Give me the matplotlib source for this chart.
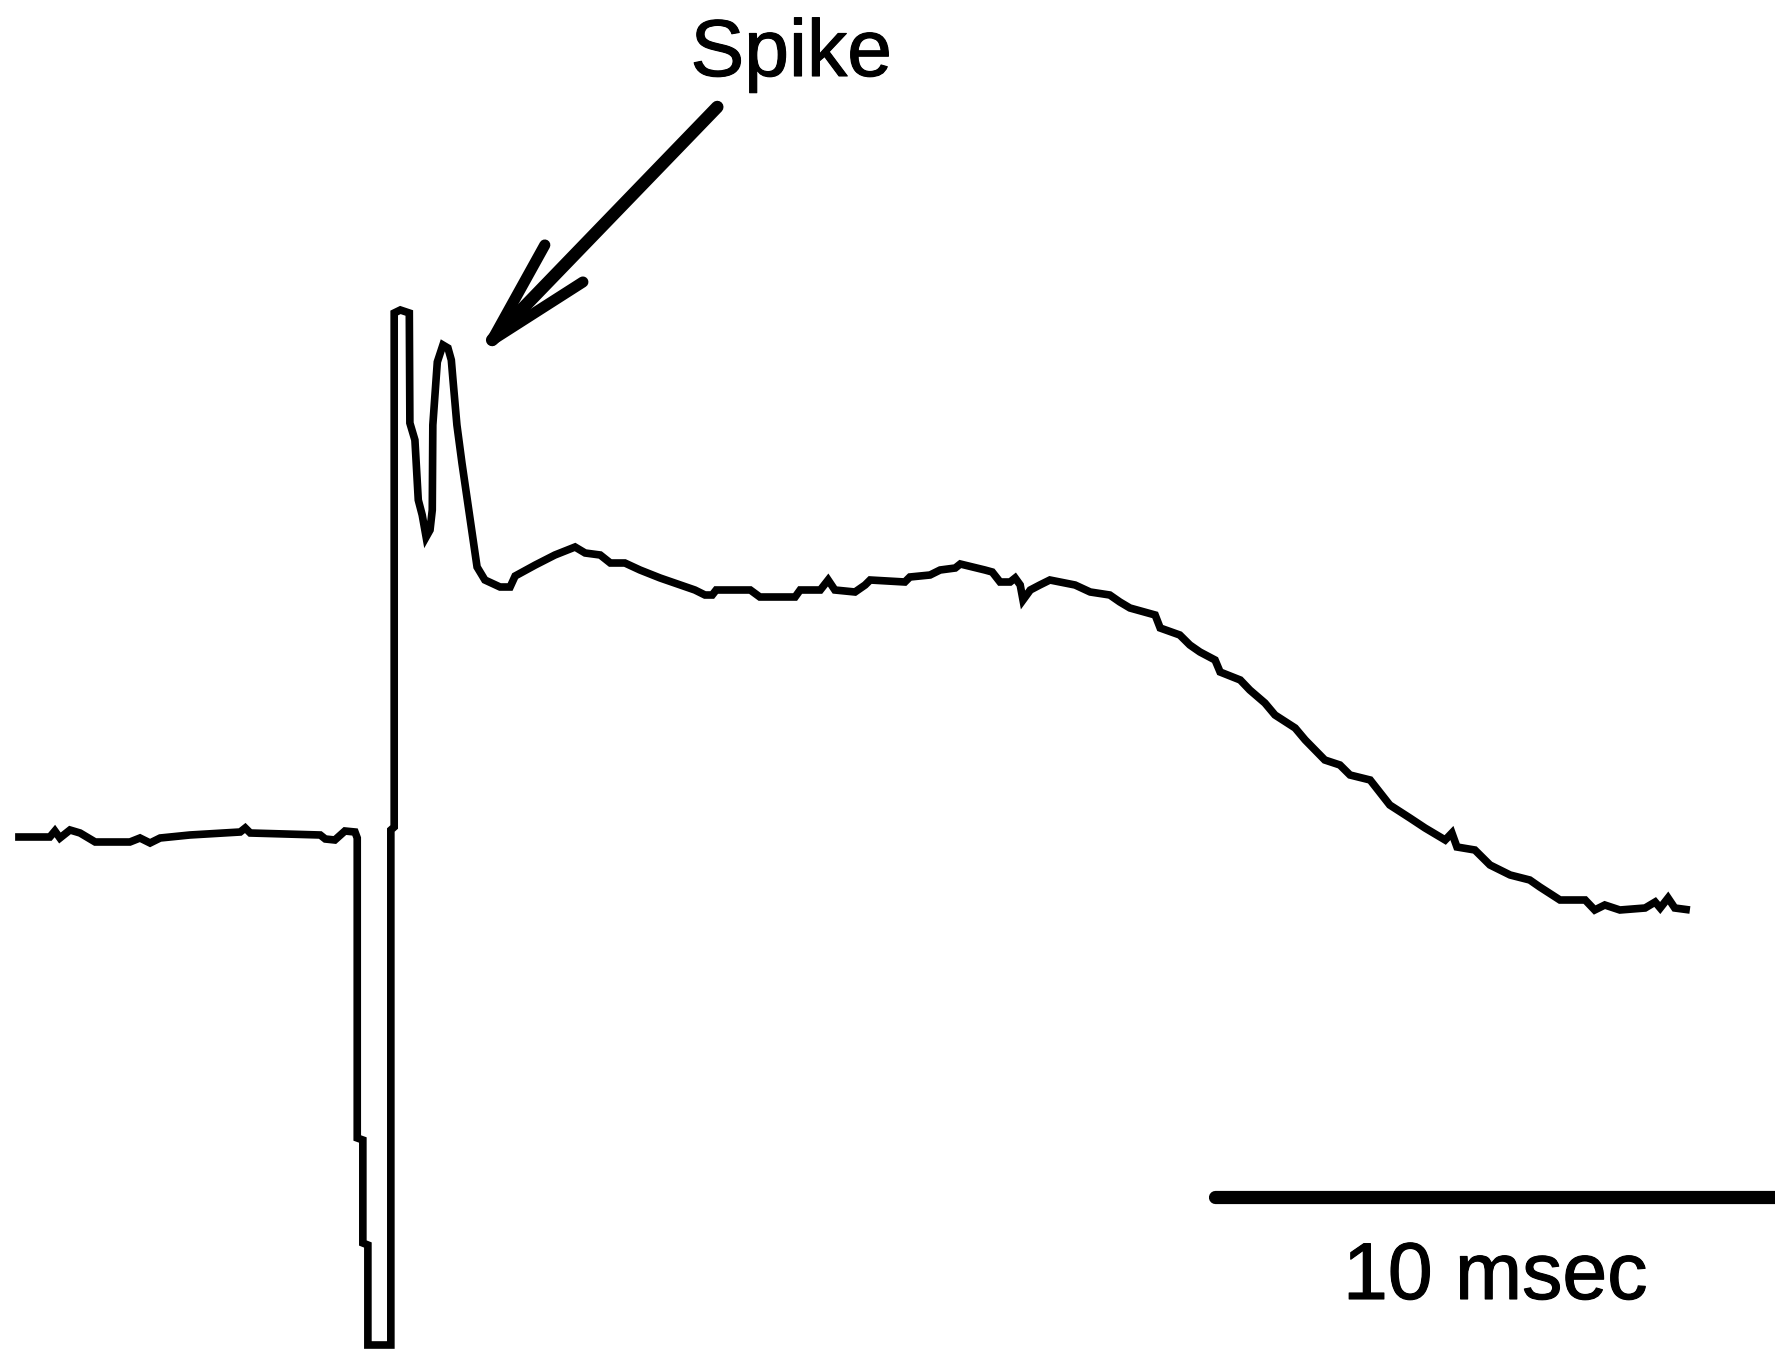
import matplotlib
matplotlib.use("Agg")
import matplotlib.pyplot as plt
import matplotlib.patheffects as pe

# trace: time in ms, amplitude in arbitrary units (baseline = 0)
time_ms = [
    0.00, 0.62, 0.71, 0.80, 0.98, 1.16, 1.43, 2.05, 2.23, 2.41, 2.59, 3.12, 4.02, 4.11, 4.20,
    5.45, 5.54, 5.71, 5.89, 6.07,
    6.11, 6.11, 6.21, 6.21, 6.30, 6.30, 6.71, 6.71, 6.77, 6.77,
    6.88, 7.04, 7.05, 7.14, 7.20, 7.27, 7.34, 7.41, 7.45, 7.46, 7.54, 7.64, 7.73, 7.79, 7.82,
    7.89, 7.98, 8.09, 8.18, 8.25, 8.39, 8.66, 8.84, 8.93, 9.29, 9.64, 10.00, 10.18, 10.45,
    10.63, 10.89, 11.16, 11.52, 11.88, 12.14, 12.32, 12.45, 12.52, 13.13, 13.30, 13.93, 14.02,
    14.38, 14.52, 14.64, 15.00, 15.18, 15.27, 15.89, 15.98, 16.34, 16.52, 16.79, 16.88, 17.32,
    17.45, 17.59, 17.77, 17.86, 17.95, 18.00, 18.13, 18.30, 18.48, 18.93, 19.20, 19.55, 19.73,
    19.91, 20.36, 20.45, 20.80, 20.98, 21.16, 21.43, 21.52, 21.88, 22.05, 22.32, 22.50, 22.86,
    23.04, 23.39, 23.66, 23.84, 24.20, 24.34, 24.55, 24.91, 25.18, 25.54, 25.66, 25.75, 26.07,
    26.34, 26.70, 27.05, 27.23, 27.59, 28.04, 28.21, 28.39, 28.66, 29.11, 29.29, 29.38, 29.52,
    29.64, 29.91,
]
signal = [
    0.1, 0.1, 0.7, 0.0, 0.8, 0.5, -0.4, -0.4, 0.0, -0.5, 0.0, 0.3, 0.6, 1.0, 0.5,
    0.3, -0.1, -0.2, 0.7, 0.6,
    0.0, -30.0, -30.2, -40.5, -40.7, -50.7, -50.7, 0.8, 1.1, 52.5,
    52.8, 52.5, 41.5, 39.8, 33.8, 32.3, 30.1, 30.8, 32.8, 41.3, 47.6, 49.3, 49.0, 47.8, 45.8,
    41.3, 37.5, 33.3, 29.8, 27.1, 25.8, 25.1, 25.1, 26.2, 27.3, 28.3, 29.1, 28.5, 28.3,
    27.5, 27.5, 26.8, 26.0, 25.3, 24.8, 24.3, 24.3, 24.8, 24.8, 24.1, 24.1, 24.8,
    24.8, 25.8, 24.8, 24.6, 25.3, 25.8, 25.6, 26.1, 26.3, 26.8, 27.0, 27.4, 26.8,
    26.6, 25.6, 25.6, 26.0, 25.3, 23.8, 24.8, 25.3, 25.8, 25.3, 24.6, 24.3, 23.6,
    23.0, 22.3, 21.0, 20.3, 19.3, 18.6, 17.8, 16.6, 15.8, 14.8, 13.5, 12.3, 11.0,
    9.8, 7.8, 7.3, 6.3, 5.8, 4.8, 3.3, 2.0, 1.0, -0.2, 0.5, -0.9, -1.2,
    -2.7, -3.7, -4.2, -4.9, -6.2, -6.2, -7.2, -6.7, -7.2, -7.0, -6.4, -7.0, -6.0,
    -7.0, -7.2,
]

scale_ms = 10
scale_label = "10 msec"
note_label = "Spike"

plt.rcParams['font.family'] = ['Liberation Sans', 'DejaVu Sans']

fig = plt.figure(figsize=(17.75, 13.56), dpi=100)
ax = fig.add_axes([0, 0, 1, 1])
ax.set_xlim(-0.27, 31.43)
ax.set_ylim(-51.8, 83.8)
ax.axis('off')

ax.plot(time_ms, signal, color='black', lw=5.5, solid_joinstyle='miter', solid_capstyle='butt')

# scan text is a bit heavier than plain regular weight
heavy = [pe.Stroke(linewidth=0.8, foreground='black', joinstyle='round'), pe.Normal()]

# scale bar
bar_start = 31.43 - scale_ms
ax.plot([bar_start, bar_start + scale_ms], [-35.9, -35.9], color='black', lw=9.5,
        solid_capstyle='round')
ax.text(bar_start + scale_ms / 2, -46.1, scale_label, fontsize=58, ha='center',
        va='baseline', path_effects=heavy)

# label + hand drawn style arrow
ax.text(13.86, 76.2, note_label, fontsize=58, ha='center', va='baseline', path_effects=heavy)
tip = (8.52, 49.8)
ax.plot([12.54, tip[0]], [73.1, tip[1]], color='black', lw=9, solid_capstyle='round')
ax.plot([9.46, tip[0]], [59.3, tip[1]], color='black', lw=8, solid_capstyle='round')
ax.plot([10.14, tip[0]], [55.6, tip[1]], color='black', lw=8, solid_capstyle='round')

fig.savefig('out.png', dpi=100)
